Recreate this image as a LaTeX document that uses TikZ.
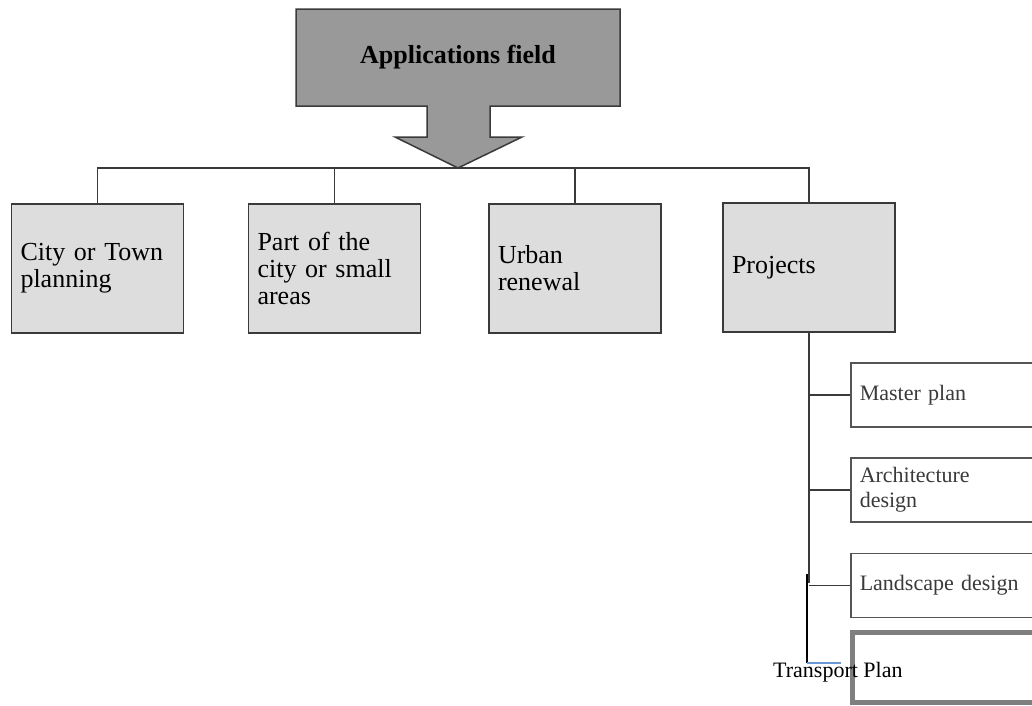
\documentclass[tikz,border=0pt]{standalone}
\usepackage{fontspec}
\setmainfont{Liberation Serif}
\definecolor{linec}{HTML}{3A3A3A}
\definecolor{topfill}{HTML}{999999}
\definecolor{boxfill}{HTML}{DDDDDD}
\definecolor{subline}{HTML}{555555}
\definecolor{subtext}{HTML}{3A3A3A}
\definecolor{tpline}{HTML}{7F7F7F}
\definecolor{bluec}{HTML}{6A9AD6}
\begin{document}
\begin{tikzpicture}[x=1pt,y=-1pt,
  bigbox/.style={draw=linec, line width=1.5pt, fill=boxfill, rectangle, minimum height=129pt,
    text width=154pt, inner xsep=9pt, inner ysep=0pt, align=left,
    font=\fontsize{26}{27}\selectfont},
  subbox/.style={draw=subline, line width=1.5pt, fill=white, rectangle, minimum height=64pt,
    text width=172pt, inner xsep=9pt, inner ysep=0pt, align=left, anchor=west,
    text=subtext, font=\fontsize{22}{25}\selectfont},
  conn/.style={draw=linec, line width=1.5pt}]
\useasboundingbox (0,0) rectangle (1032,705);
% top arrow box
\draw[draw=linec, line width=1.5pt, fill=topfill] (296,9) -- (620,9) -- (620,106) -- (490,106) -- (490,137) -- (522,137) -- (458,168) -- (395,137) -- (427,137) -- (427,106) -- (296,106) -- cycle;
\node[anchor=base, font=\fontsize{26}{27}\selectfont\bfseries] (top) at (458,63) {Applications field};
\coordinate (tip) at (458,168);
% main boxes
\node[bigbox] (b1) at (97.5,268.5) {City or Town\\planning};
\node[bigbox] (b2) at (334.5,268.5) {Part of the\\city or small\\areas};
\node[bigbox] (b3) at (575,268.5) {Urban\\renewal};
\node[bigbox] (b4) at (809,267.5) {Projects};
% bus
\draw[conn] (b1.north) -- (b1.north |- tip) -- (b4.north |- tip) -- (b4.north);
\draw[conn] (b2.north) -- (b2.north |- tip);
\draw[conn] (b3.north) -- (b3.north |- tip);
% sub boxes
\node[subbox] (m) at (850,395) {Master plan};
\node[subbox] (a) at (850,490) {Architecture\\design};
\node[subbox] (l) at (850,585.5) {Landscape design};
\node[draw=tpline, line width=4.5pt, rectangle, anchor=north west, minimum width=192pt, minimum height=70pt, inner sep=0pt] (tp) at (850,630) {};
\node[anchor=base west, inner sep=0pt, font=\fontsize{22}{25}\selectfont] (tpt) at (773,677) {Transport Plan};
% sub connectors
\coordinate (vend) at (809,583);
\draw[conn] (b4.south) -- (vend);
\draw[conn] (b4.south |- m.west) -- (m.west);
\draw[conn] (b4.south |- a.west) -- (a.west);
\draw[conn] (b4.south |- l.west) -- (l.west);
\coordinate (s1) at (807,574);
\coordinate (s2) at (807,663);
\coordinate (s3) at (841,663);
\draw[draw=black, line width=1.5pt] (s1) -- (s2);
\draw[draw=bluec, line width=1.5pt] (s2) -- (s3);
\end{tikzpicture}
\end{document}
